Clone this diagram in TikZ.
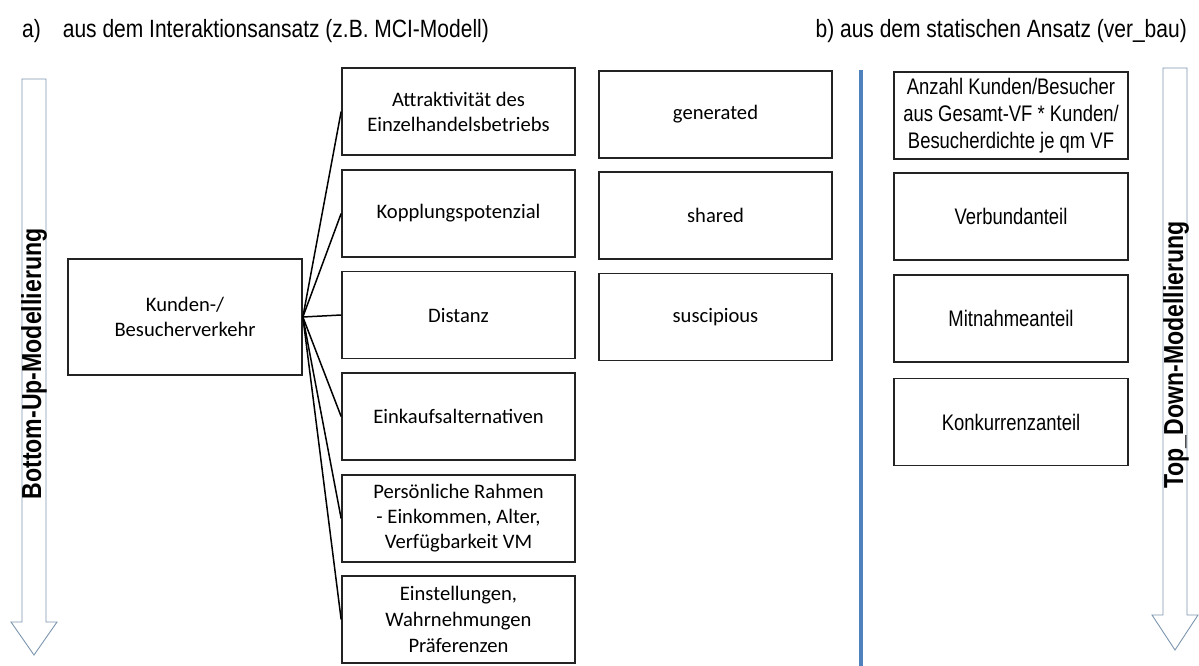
\documentclass[tikz,border=0pt]{standalone}
\usepackage{fontspec}
\setmainfont{Carlito}
\newfontfamily\narrowfont[FakeStretch=0.82]{Liberation Sans}
\newfontfamily\titlefont[FakeStretch=0.84]{Liberation Sans}
\newfontfamily\labelfont[FakeStretch=0.84]{Liberation Sans}
\definecolor{boxline}{RGB}{35,35,35}
\definecolor{arrowline}{RGB}{125,150,175}
\definecolor{sepblue}{RGB}{79,129,189}
\begin{document}
\begin{tikzpicture}[x=1pt,y=1pt,
  box/.style={draw=boxline, line width=1.7pt, fill=white, minimum width=233pt, minimum height=87pt,
     inner sep=0pt, align=center, font=\fontsize{20.6}{25}\selectfont},
  rbox/.style={box, minimum width=234pt, font=\narrowfont\fontsize{22.5}{27}\selectfont},
  link/.style={draw=black, line width=1.5pt},
  blockarrow/.style={draw=arrowline, line width=0.9pt, fill=white, line join=miter},
  title/.style={font=\titlefont\fontsize{25}{28}\selectfont, inner sep=0pt},
  sidelabel/.style={font=\labelfont\bfseries\fontsize{27.5}{30}\selectfont, inner sep=0pt, rotate=90}
]
\useasboundingbox (0,0) rectangle (1199,-666);

% titles
\node[title, anchor=base west] (ta) at (22,-38) {a)\hspace{22pt}aus dem Interaktionsansatz (z.B. MCI-Modell)};
\node[title, anchor=base east] (tb) at (1187,-38) {b) aus dem statischen Ansatz (ver\_bau)};

% block arrows
\draw[blockarrow] (22,-79) -- (46,-79) -- (46,-622) -- (57,-622) -- (34,-655) -- (11,-622) -- (22,-622) -- cycle;
\node[sidelabel] (bu) at (34,-364) {Bottom-Up-Modellierung};
\draw[blockarrow] (1163,-68) -- (1187,-68) -- (1187,-615) -- (1198,-615) -- (1175,-650) -- (1152,-615) -- (1163,-615) -- cycle;
\node[sidelabel] (td) at (1176,-355) {Top\_Down-Modellierung};

% separator
\draw[sepblue, line width=3.5pt] (861,-70) -- (861,-666);

% central box
\node[box, minimum width=234pt, minimum height=116pt] (kv) at (185,-317) {Kunden-/\\Besucherverkehr};

% left column
\node[box] (l1) at (458.5,-111.5) {Attraktivität des\\Einzelhandelsbetriebs};
\node[box] (l2) at (458.5,-213.5) {Kopplungspotenzial};
\node[box] (l3) at (458.5,-315) {Distanz};
\node[box] (l4) at (458.5,-416.5) {Einkaufsalternativen};
\node[box] (l5) at (458.5,-518.5) {Persönliche Rahmen\\- Einkommen, Alter,\\Verfügbarkeit VM};
\node[box, font=\fontsize{20.6}{26}\selectfont] (l6) at (458.5,-619.5) {Einstellungen,\\Wahrnehmungen\\Präferenzen};

% middle column
\node[box] (m1) at (715.5,-114.5) {generated};
\node[box] (m2) at (715.5,-215.5) {shared};
\node[box] (m3) at (715.5,-317) {suscipious};

% right column
\node[rbox] (r1) at (1011,-115.5) {Anzahl Kunden/Besucher\\aus Gesamt-VF * Kunden/\\Besucherdichte je qm VF};
\node[rbox] (r2) at (1011,-216.5) {Verbundanteil};
\node[rbox] (r3) at (1011,-318.5) {Mitnahmeanteil};
\node[rbox] (r4) at (1011,-422) {Konkurrenzanteil};

% connectors
\foreach \b in {l1,l2,l3,l4,l5,l6}{
  \draw[link] (kv.east) -- (\b.west);
}
\end{tikzpicture}
\end{document}
